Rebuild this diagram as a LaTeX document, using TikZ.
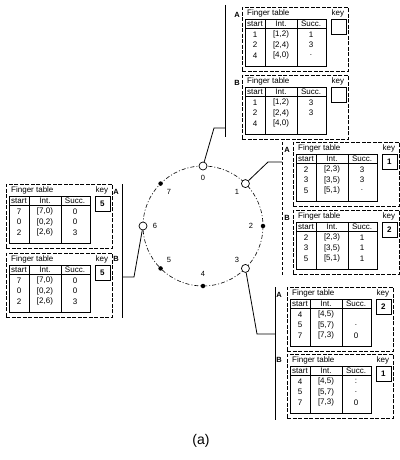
\documentclass[tikz,border=0pt]{standalone}
\usepackage{fontspec}
\setmainfont{Liberation Sans}
\usetikzlibrary{calc}
\tikzset{panel/.style={draw,dash pattern=on 4pt off 1.5pt,line width=0.5pt,minimum width=106pt,minimum height=64pt,inner sep=0pt,anchor=north west},
 tab/.style={draw,line width=0.8pt,minimum width=81pt,minimum height=47pt,inner sep=0pt,anchor=north west},
 keybox/.style={draw,line width=0.8pt,minimum width=15pt,minimum height=15pt,inner sep=0pt,anchor=north west,font=\fontsize{8}{9}\selectfont\bfseries},
 ttl/.style={anchor=west,inner sep=0pt,font=\fontsize{8}{9}\selectfont},
 cell/.style={inner sep=0pt,font=\fontsize{8}{9}\selectfont},
 side/.style={inner sep=0pt,font=\fontsize{7.5}{8}\selectfont\bfseries},
 peer/.style={draw,circle,fill=white,minimum size=8pt,inner sep=0pt,line width=0.7pt},
 hop/.style={circle,fill,minimum size=4.5pt,inner sep=0pt},
 num/.style={inner sep=0pt,font=\fontsize{7.5}{8}\selectfont},
 ring/.style={dash pattern=on 4pt off 2pt on 1pt off 2pt,line width=0.6pt},
 link/.style={line width=0.8pt}}
\newcommand{\fingertab}[4]{% name, top-left corner, key, rows
 \node[panel] (#1) at (#2) {};
 \node[tab] (#1t) at ([shift={(3,12)}]#1.north west) {};
 \node[keybox] (#1k) at ([shift={(-18,12)}]#1.north east) {#3};
 \node[ttl] at ([shift={(5,6.5)}]#1.north west) {Finger table};
 \node[ttl] at ([shift={(-17,6)}]#1.north east) {key};
 \draw[line width=0.6pt] ([yshift=-9pt]#1t.north west) -- ([yshift=-9pt]#1t.north east)
  ([xshift=20pt]#1t.north west) -- ([xshift=20pt]#1t.south west)
  ([xshift=52pt]#1t.north west) -- ([xshift=52pt]#1t.south west);
 \node[cell] at ([shift={(10,4.5)}]#1t.north west) {start};
 \node[cell] at ([shift={(36,4.5)}]#1t.north west) {Int.};
 \node[cell] at ([shift={(66,4.5)}]#1t.north west) {Succ.};
 \foreach \s/\i/\c [count=\r] in {#4}{
  \node[cell] at ([shift={(10,{5+10.5*\r})}]#1t.north west) {\s};
  \node[cell] at ([shift={(36,{5+10.5*\r})}]#1t.north west) {\i};
  \node[cell] at ([shift={(66,{5+10.5*\r})}]#1t.north west) {\c};}}

\begin{document}
\begin{tikzpicture}[x=1pt,y=-1pt]
\useasboundingbox (0,0) rectangle (399,460);
% the ring
\coordinate (c) at (203,226);
\draw[ring] (c) circle[radius=60];
\foreach \k/\st in {0/peer,1/peer,2/hop,3/peer,4/hop,5/hop,6/peer,7/hop}{
 \node[\st] (n\k) at ($(c)+({-90+45*\k}:60)$) {};
 \node[num] (l\k) at ($(c)+({-90+45*\k}:48)$) {\k};}
% brackets and links
\coordinate (b0t) at (225,5);\coordinate (b0b) at (225,137);
\coordinate (b1t) at (282,142);\coordinate (b1b) at (282,276);
\coordinate (b3t) at (275,287);\coordinate (b3b) at (275,420);
\coordinate (b6t) at (122,184);\coordinate (b6b) at (122,318);
\coordinate (j0) at (214,128);\coordinate (j1) at (268,162);
\coordinate (j3) at (257,334);\coordinate (j6) at (134,277);
\draw[link] (b0t)--(b0b)(b3t)--(b3b)(b6t)--(b6b);
\draw[link,dash pattern=on 3pt off 2pt] (b1t)--(b1b);
\draw[link] (n0)--(j0)--(j0-|b0t);
\draw[link] (n1)--(j1)--(j1-|b1t);
\draw[link] (n3)--(j3)--(j3-|b3t);
\draw[link] (n6)--(j6)--(j6-|b6t);
% finger tables
\fingertab{p0a}{242,7}{}{1/{[1,2)}/1, 2/{[2,4)}/3, 4/{[4,0)}/{.}}
\fingertab{p0b}{242,75}{}{1/{[1,2)}/3, 2/{[2,4)}/3, 4/{[4,0)}/{}}
\fingertab{p1a}{293,142}{1}{2/{[2,3)}/3, 3/{[3,5)}/3, 5/{[5,1)}/{.}}
\fingertab{p1b}{293,210}{2}{2/{[2,3)}/1, 3/{[3,5)}/1, 5/{[5,1)}/1}
\fingertab{p3a}{287,287}{2}{4/{[4,5)}/{}, 5/{[5,7)}/{.}, 7/{[7,3)}/0}
\fingertab{p3b}{287,354}{1}{4/{[4,5)}/{:}, 5/{[5,7)}/{.}, 7/{[7,3)}/0}
\fingertab{p6a}{6,184}{5}{7/{[7,0)}/0, 0/{[0,2)}/0, 2/{[2,6)}/3}
\fingertab{p6b}{6,253}{5}{7/{[7,0)}/0, 0/{[0,2)}/0, 2/{[2,6)}/3}
\node[side] (s0a) at (237,15) {A};\node[side] (s0b) at (237,83) {B};
\node[side] (s1a) at (287,150) {A};\node[side] (s1b) at (287,218) {B};
\node[side] (s3a) at (279,295) {A};\node[side] (s3b) at (279,360) {B};
\node[side] (s6a) at (116,192) {A};\node[side] (s6b) at (116,259) {B};
\node[font=\fontsize{14}{16}\selectfont] (cap) at (201,441) {(a)};
\end{tikzpicture}
\end{document}
